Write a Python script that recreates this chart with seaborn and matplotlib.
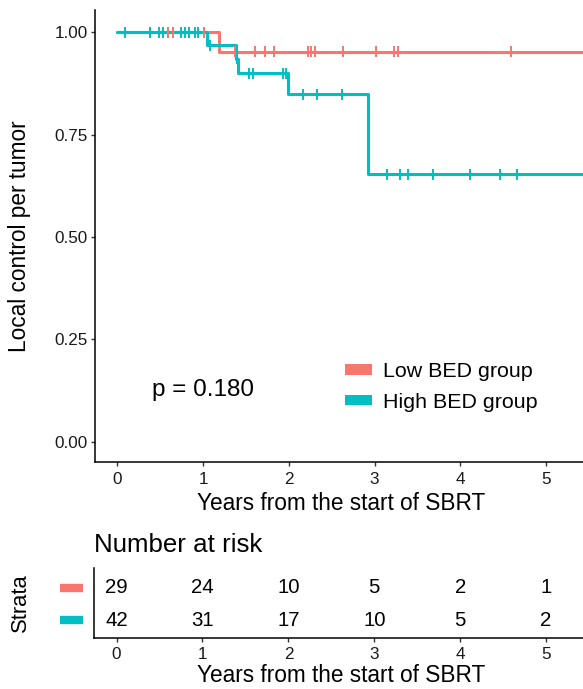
import numpy as np
import pandas as pd
import matplotlib
matplotlib.use("Agg")
import matplotlib.pyplot as plt
import matplotlib.transforms as mtransforms
from matplotlib.patches import Patch
import seaborn as sns

# ==========================================================
# DATA
# ==========================================================

groups = ["Low BED group", "High BED group"]
colors = ["#F8766D", "#00BFC4"]

end_time = 5.6

low_times = [0.0, 1.19]
low_surv = [1.0, 0.952]
low_censor = [0.385, 0.59, 0.645, 1.01, 1.37, 1.60, 1.725, 1.83,
              2.22, 2.26, 2.30, 2.63, 3.015, 3.23, 3.27, 4.59]

high_times = [0.0, 1.045, 1.38, 1.41, 1.99, 2.92]
high_surv = [1.0, 0.968, 0.935, 0.899, 0.848, 0.653]
high_censor = [0.09, 0.385, 0.49, 0.53, 0.74, 0.785, 0.835, 0.91, 0.935,
               1.08, 1.40, 1.54, 1.58, 1.93, 1.97, 2.17, 2.33, 2.62,
               3.14, 3.30, 3.39, 3.68, 4.11, 4.46, 4.66]

risk_times = [0, 1, 2, 3, 4, 5]
low_risk = [29, 24, 10, 5, 2, 1]
high_risk = [42, 31, 17, 10, 5, 2]

p_text = "p = 0.180"

# ==========================================================
# BUILD TABLES
# ==========================================================

def surv_at(times, surv, t):
    idx = np.searchsorted(times, t, side="right") - 1
    return np.asarray(surv)[idx]

curve_rows = []
censor_rows = []
for g, t, s, c in [(groups[0], low_times, low_surv, low_censor),
                   (groups[1], high_times, high_surv, high_censor)]:
    for ti, si in zip(list(t) + [end_time], list(s) + [s[-1]]):
        curve_rows.append({"group": g, "time": ti, "surv": si})
    for ci in c:
        censor_rows.append({"group": g, "time": ci, "surv": surv_at(t, s, ci)})

curves = pd.DataFrame(curve_rows)
censors = pd.DataFrame(censor_rows)
palette = dict(zip(groups, colors))

# ==========================================================
# PLOT
# ==========================================================

sns.set_style("ticks")
plt.rcParams["font.family"] = ["Liberation Sans", "DejaVu Sans"]
plt.rcParams["text.color"] = "black"
plt.rcParams["axes.labelcolor"] = "black"

fig = plt.figure(figsize=(5.83, 6.89), dpi=100)
ax = fig.add_axes([0.163, 0.329, 0.837, 0.6565])
ax2 = fig.add_axes([0.1617, 0.0745, 0.8383, 0.1011])

sns.lineplot(data=curves, x="time", y="surv", hue="group", palette=palette,
             drawstyle="steps-post", linewidth=2.2, estimator=None,
             sort=False, legend=False, ax=ax)
sns.scatterplot(data=censors, x="time", y="surv", hue="group", palette=palette,
                marker="|", s=62, linewidth=1.4, legend=False, ax=ax, zorder=3)

tick_kw = dict(labelsize=12.3, length=3.2, width=1.0, color="#333333",
               labelcolor="#1a1a1a", pad=3.5)

ax.set_xlim(-0.26, 5.43)
ax.set_ylim(-0.05, 1.054)
ax.set_xticks(risk_times)
ax.set_yticks([0, 0.25, 0.5, 0.75, 1.0])
ax.set_yticklabels(["0.00", "0.25", "0.50", "0.75", "1.00"])
ax.tick_params(**tick_kw)
ax.tick_params(axis="y", pad=2)
for sp in ["top", "right"]:
    ax.spines[sp].set_visible(False)
for sp in ["left", "bottom"]:
    ax.spines[sp].set_linewidth(1.1)
    ax.spines[sp].set_color("black")

ax.set_xlabel("Years from the start of SBRT", fontsize=16.3)
ax.set_ylabel("Local control per tumor", fontsize=16.3)
ax.xaxis.set_label_coords(0.505, -0.0907)
ax.xaxis.label.set_va("center")
ax.yaxis.set_label_coords(-0.154, 0.5)
ax.yaxis.label.set_va("center")

ax.text(0.40, 0.127, p_text, fontsize=17.5, ha="left", va="center")

handles = [Patch(facecolor=c, edgecolor="none") for c in colors]
ax.legend(handles, groups, loc="center left",
          bbox_to_anchor=(345 / 583, 1 - 387 / 689),
          bbox_transform=fig.transFigure, frameon=False, fontsize=15.4,
          handlelength=1.26, handleheight=0.37, handletextpad=0.5,
          labelspacing=0.55, borderpad=0, borderaxespad=0)

# ==========================================================
# RISK TABLE
# ==========================================================

rows = [(2, low_risk, colors[0]), (1, high_risk, colors[1])]
for yrow, counts, col in rows:
    for xt, n in zip(risk_times, counts):
        ax2.text(xt, yrow, str(n), ha="center", va="center", fontsize=14.7)

ax2.set_xlim(-0.26, 5.43)
ax2.set_ylim(0.45, 2.62)
ax2.set_xticks(risk_times)
ax2.set_yticks([])
ax2.tick_params(**tick_kw)
for sp in ["top", "right"]:
    ax2.spines[sp].set_visible(False)
for sp in ["left", "bottom"]:
    ax2.spines[sp].set_linewidth(1.1)
    ax2.spines[sp].set_color("black")

trans = mtransforms.blended_transform_factory(ax2.transAxes, ax2.transData)
for yrow, counts, col in rows:
    ax2.plot([-0.070, -0.023], [yrow, yrow], color=col, linewidth=6,
             solid_capstyle="butt", transform=trans, clip_on=False)

ax2.set_xlabel("Years from the start of SBRT", fontsize=16.3)
ax2.xaxis.set_label_coords(0.505, -0.55)
ax2.xaxis.label.set_va("center")
ax2.set_ylabel("Strata", fontsize=15.8)
ax2.yaxis.set_label_coords(-0.152, 0.5)
ax2.yaxis.label.set_va("center")

ax2.text(0.0, 1.33, "Number at risk", transform=ax2.transAxes,
         ha="left", va="center", fontsize=18.6)

fig.savefig("out.png", dpi=100)
plt.close(fig)
